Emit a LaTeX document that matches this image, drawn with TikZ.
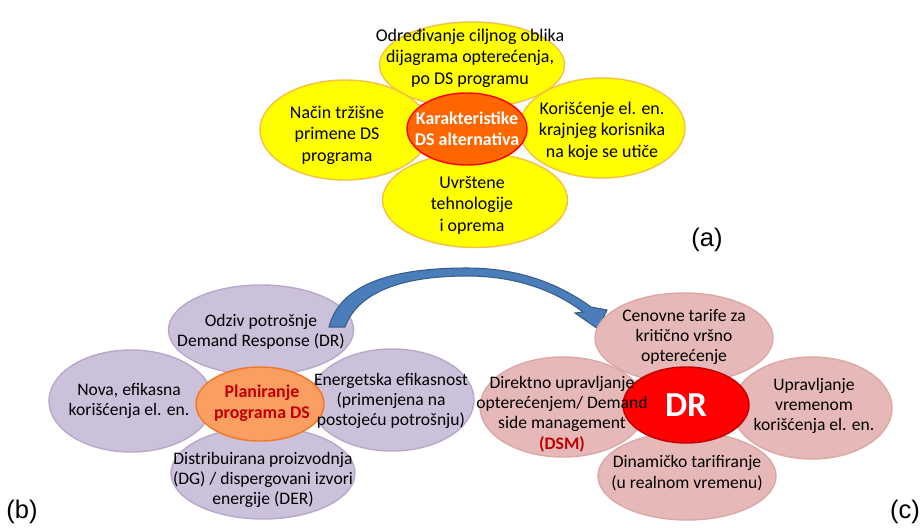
\documentclass[tikz,border=0pt]{standalone}
\usepackage{fontspec}
\setmainfont{Carlito}
\newfontfamily\arialfont{Liberation Sans}
\usetikzlibrary{shapes.geometric}
\definecolor{yelfill}{RGB}{255,255,0}
\definecolor{yeldraw}{RGB}{245,192,70}
\definecolor{orfill}{RGB}{255,102,0}
\definecolor{purfill}{RGB}{204,193,218}
\definecolor{purdraw}{RGB}{184,168,204}
\definecolor{lorfill}{RGB}{250,158,98}
\definecolor{lordraw}{RGB}{244,118,36}
\definecolor{darkred}{RGB}{192,0,0}
\definecolor{pinkfill}{RGB}{230,185,184}
\definecolor{pinkdraw}{RGB}{220,168,166}
\definecolor{arrfill}{RGB}{74,126,187}
\definecolor{arrdraw}{RGB}{56,93,138}

\begin{document}
\begin{tikzpicture}[x=0.02cm,y=-0.02cm,
    petal/.style 2 args={ellipse,minimum width=#1*0.02cm,minimum height=#2*0.02cm,inner sep=0pt,line width=0.8pt},
    petalA/.style={fill=yelfill,draw=yeldraw},
    petalB/.style={fill=purfill,draw=purdraw},
    petalC/.style={fill=pinkfill,draw=pinkdraw},
    txt/.style={align=center,inner sep=0pt,font=\fontsize{10}{11.6}\selectfont},
    txtA/.style={align=center,inner sep=0pt,font=\fontsize{10.2}{12.2}\selectfont},
    tag/.style={inner sep=0pt,font=\arialfont\fontsize{14.5}{17}\selectfont}]
  \useasboundingbox (0,0) rectangle (922,527);
  % (a)
  \node[petal={185}{86},petalA] (aT) at (472,65) {};
  \node[petal={170}{100},petalA] (aL) at (345,130) {};
  \node[petal={166}{100},petalA] (aR) at (602,128) {};
  \node[petal={185}{95},petalA] (aB) at (475,200) {};
  \node[petal={120}{72},fill=orfill,draw=red] (aH) at (467,129) {};
  \node[txtA] (aTt) at (470,58) {Određivanje ciljnog oblika\\dijagrama opterećenja,\\po DS programu};
  \node[txtA] (aLt) at (337,135) {Način tržišne\\primene DS\\programa};
  \node[txtA] (aRt) at (602,131) {Korišćenje el. en.\\krajnjeg korisnika\\na koje se utiče};
  \node[txtA] (aBt) at (472,205) {Uvrštene\\tehnologije\\i oprema};
  \node[txtA,text=white,font=\fontsize{10.2}{12.2}\selectfont\bfseries] (aHt) at (467,129) {Karakteristike\\DS alternativa};
  \node[tag] (aTag) at (707,240) {(a)};
  % (b)
  \node[petal={185}{90},petalB] (bT) at (261,330) {};
  \node[petal={164}{102},petalB] (bL) at (131,401) {};
  \node[petal={164}{102},petalB] (bR) at (392,400) {};
  \node[petal={184}{92},petalB] (bB) at (263,473) {};
  \node[petal={128}{74},fill=lorfill,draw=lordraw] (bH) at (260,404) {};
  \node[txt] (bTt) at (261,332) {Odziv potrošnje\\Demand Response (DR)};
  \node[txt] (bLt) at (129,401) {Nova, efikasna\\korišćenja el. en.};
  \node[txt] (bRt) at (391,401) {Energetska efikasnost\\(primenjena na\\postojeću potrošnju)};
  \node[txt] (bBt) at (263,480) {Distribuirana proizvodnja\\(DG) / dispergovani izvori\\energije (DER)};
  \node[txt,text=darkred,font=\fontsize{10.2}{11.8}\selectfont\bfseries] (bHt) at (262,403) {Planiranje\\programa DS};
  \node[tag] (bTag) at (22,512) {(b)};
  % arrow from (b) to (c)
  \filldraw[fill=arrfill,draw=arrdraw,line width=0.6pt,line join=miter]
    (329,327) .. controls (340,284) and (392,268) .. (467,268)
    .. controls (525,268) and (565,288) .. (591,307) -- (607,310) -- (598,329) -- (575,313) -- (583,312)
    .. controls (558,293) and (520,276) .. (467,276)
    .. controls (402,276) and (358,292) .. (345,327) -- cycle;
  % (c)
  \node[petal={178}{90},petalC] (cT) at (684,338) {};
  \node[petal={166}{100},petalC] (cL) at (563,407) {};
  \node[petal={160}{102},petalC] (cR) at (812,408) {};
  \node[petal={178}{88},petalC] (cB) at (687,476) {};
  \node[petal={126}{76},fill=red,draw=darkred] (cH) at (686,405) {};
  \node[txt] (cTt) at (684,337) {Cenovne tarife za\\kritično vršno\\opterećenje};
  \node[txt] (cLt) at (562,414) {Direktno upravljanje\\opterećenjem/ Demand\\side management\\{\bfseries\color{darkred}(DSM)}};
  \node[txt] (cRt) at (814,406) {Upravljanje\\vremenom\\korišćenja el. en.};
  \node[txt] (cBt) at (687,473) {Dinamičko tarifiranje\\(u realnom vremenu)};
  \node[text=white,inner sep=0pt,font=\fontsize{20}{24}\selectfont\bfseries] (cHt) at (686,405) {DR};
  \node[tag] (cTag) at (905,512) {(c)};
\end{tikzpicture}
\end{document}
